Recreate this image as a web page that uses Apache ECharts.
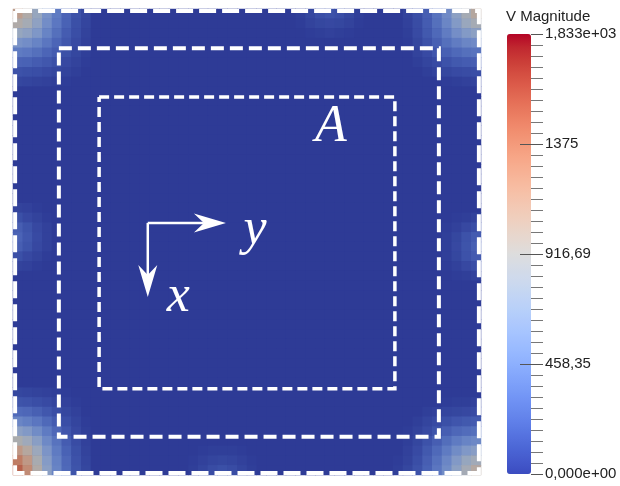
<!DOCTYPE html>
<html>
<head>
<meta charset="utf-8">
<script src="https://cdn.jsdelivr.net/npm/echarts@6.0.0/dist/echarts.min.js"></script>
<style>
  html, body { margin: 0; background: #fff; }
  #chart { width: 620px; height: 486px; }
</style>
</head>
<body>
<div id="chart"></div>
<script>
// V Magnitude field on a square plate
const vMax = 1833.38
const tickLabels = ['0,000e+00', '458,35', '916,69', '1375', '1,833e+03']
const gridSize = 48

// corner hot spots, [row from the corner][col from the corner]
const cornerTL = [
  [1100, 940, 740, 530, 360, 220, 120, 60],
  [940, 850, 680, 490, 340, 210, 110, 50],
  [740, 680, 570, 420, 290, 180, 100, 40],
  [530, 490, 420, 330, 230, 150, 80, 30],
  [360, 340, 290, 230, 170, 110, 60, 20],
  [220, 210, 180, 150, 110, 70, 40, 10],
  [120, 110, 100, 80, 60, 40, 20, 0],
  [60, 50, 40, 30, 20, 10, 0, 0]
]
const cornerTR = [
  [1000, 850, 660, 470, 310, 190, 100, 40],
  [850, 760, 600, 440, 290, 180, 90, 30],
  [660, 600, 500, 370, 250, 160, 80, 20],
  [470, 440, 370, 290, 200, 120, 60, 10],
  [310, 290, 250, 200, 140, 80, 40, 0],
  [190, 180, 160, 120, 80, 50, 20, 0],
  [100, 90, 80, 60, 40, 20, 0, 0],
  [40, 30, 20, 10, 0, 0, 0, 0]
]
const cornerBL = [
  [1500, 1250, 950, 650, 420, 250, 130, 60],
  [1350, 1150, 880, 610, 400, 240, 120, 50],
  [1150, 1000, 780, 550, 360, 210, 110, 40],
  [900, 800, 640, 460, 310, 180, 90, 30],
  [650, 590, 480, 360, 240, 140, 70, 20],
  [430, 390, 330, 250, 170, 100, 50, 10],
  [260, 240, 200, 150, 100, 60, 30, 0],
  [130, 120, 100, 80, 50, 30, 10, 0],
  [60, 50, 40, 30, 20, 10, 0, 0]
]
const cornerBR = [
  [980, 840, 660, 480, 330, 210, 120, 60, 20],
  [820, 740, 590, 440, 300, 190, 100, 40, 10],
  [630, 580, 480, 360, 250, 160, 80, 30, 0],
  [450, 420, 360, 280, 190, 120, 60, 20, 0],
  [290, 270, 240, 190, 130, 80, 40, 10, 0],
  [170, 160, 140, 110, 80, 50, 20, 0, 0],
  [80, 70, 60, 50, 30, 20, 0, 0, 0],
  [30, 20, 20, 10, 0, 0, 0, 0, 0]
]
// mid-edge spots, [along the edge][into the plate]
const edgeLeft = [
  [40, 30, 10, 0],
  [110, 70, 40, 10],
  [190, 130, 70, 30],
  [220, 150, 80, 30],
  [190, 130, 70, 30],
  [110, 70, 40, 10],
  [40, 30, 10, 0]
]
const edgeRight = [
  [40, 20, 10, 0],
  [100, 70, 30, 10],
  [170, 120, 60, 20],
  [200, 130, 70, 20],
  [170, 120, 60, 20],
  [100, 70, 30, 10],
  [40, 20, 10, 0]
]
const edgeTop = [
  [20, 10, 0],
  [60, 40, 10],
  [100, 60, 20],
  [120, 70, 30],
  [100, 60, 20],
  [60, 40, 10],
  [20, 10, 0]
]
const edgeBottom = [
  [20, 10, 0],
  [50, 30, 10],
  [90, 50, 20],
  [110, 60, 20],
  [90, 50, 20],
  [50, 30, 10],
  [20, 10, 0]
]

// dashed boxes, [x1, y1, x2, y2] in % of the plate
const outerBox = [0.45, 0.45, 99.55, 99.55]
const middleBox = [9.8, 8.4, 91.0, 91.8]
const innerBox = [18.4, 18.9, 81.6, 81.5]
// axis arrows (origin, tip) and labels, % of the plate
const arrows = [
  [28.8, 45.9, 45.5, 45.9],
  [28.8, 45.9, 28.8, 61.8]
]
const labels = [[67.9, 25.3, 'A'], [51.7, 47.6, 'y'], [35.3, 61.8, 'x']]

// paraview cool to warm
const coolWarm = [
  [59, 76, 192], [68, 90, 204], [77, 104, 215], [87, 117, 225], [98, 130, 234],
  [108, 142, 241], [119, 154, 247], [130, 165, 251], [141, 176, 254], [152, 185, 255],
  [163, 194, 255], [174, 201, 253], [184, 208, 249], [194, 213, 244], [204, 217, 238],
  [213, 219, 230], [221, 221, 221], [229, 216, 209], [236, 211, 197], [241, 204, 185],
  [245, 196, 173], [247, 187, 160], [247, 177, 148], [247, 166, 135], [244, 154, 123],
  [241, 141, 111], [236, 127, 99], [229, 112, 88], [222, 96, 77], [213, 80, 66],
  [203, 62, 56], [192, 40, 47], [180, 4, 38]
]
const rgb = (c, k) => 'rgb(' + c.map(v => Math.round(v * k)).join(',') + ')'
const barColors = coolWarm.map(c => rgb(c, 1))
const fieldColors = coolWarm.map(c => rgb(c, 0.78))

let field = []
for (let r = 0; r < gridSize; r++) {
  field.push(new Array(gridSize).fill(0))
}
function stamp(patch, r0, c0, dr, dc, swap) {
  patch.forEach((row, i) => {
    row.forEach((v, j) => {
      let r = r0 + (swap ? j : i) * dr
      let c = c0 + (swap ? i : j) * dc
      if (r >= 0 && r < gridSize && c >= 0 && c < gridSize) {
        field[r][c] = Math.max(field[r][c], v)
      }
    })
  })
}
const last = gridSize - 1
stamp(cornerTL, 0, 0, 1, 1)
stamp(cornerTR, 0, last, 1, -1)
stamp(cornerBL, last, 0, -1, 1)
stamp(cornerBR, last, last, -1, -1)
stamp(edgeLeft, 20, 0, 1, 1)
stamp(edgeRight, 21, last, 1, -1)
stamp(edgeTop, 0, 29, 1, 1, true)
stamp(edgeBottom, last, 18, -1, 1, true)

let heatData = []
for (let r = 0; r < gridSize; r++) {
  for (let c = 0; c < gridSize; c++) {
    heatData.push([c, r, field[r][c]])
  }
}
const cells = Array.from({ length: gridSize }, (_, i) => i)

function boxPath(b) {
  return [[b[0], b[1]], [b[2], b[1]], [b[2], b[3]], [b[0], b[3]], [b[0], b[1]]]
}

// stem plus a slim barbed head
function renderArrow(params, api) {
  let p0 = api.coord([api.value(0), api.value(1)])
  let p1 = api.coord([api.value(2), api.value(3)])
  let dx = p1[0] - p0[0], dy = p1[1] - p0[1]
  let len = Math.sqrt(dx * dx + dy * dy)
  let ux = dx / len, uy = dy / len
  let headLen = 32, headW = 9.5, notch = 22
  let at = (a, b) => [p1[0] - ux * a - uy * b, p1[1] - uy * a + ux * b]
  return {
    type: 'group',
    children: [
      {
        type: 'line',
        shape: { x1: p0[0], y1: p0[1], x2: at(notch, 0)[0], y2: at(notch, 0)[1] },
        style: { stroke: '#fff', lineWidth: 2.5 }
      },
      {
        type: 'polygon',
        shape: { points: [p1, at(headLen, headW), at(notch, 0), at(headLen, -headW)] },
        style: { fill: '#fff' }
      }
    ]
  }
}

const plate = { left: 13, top: 9, width: 468, height: 466 }
const barRect = { left: 507, top: 34, width: 24, height: 440 }
const hidden = { show: false }
const pctAxis = { type: 'value', min: 0, max: 100, show: false }
const clearLine = { show: true, onZero: false, lineStyle: { color: 'rgba(0,0,0,0)' } }

let chart = echarts.init(document.getElementById('chart'))
chart.setOption({
  animation: false,
  title: {
    text: 'V Magnitude',
    left: 506,
    top: 9,
    padding: 0,
    textStyle: { fontSize: 15, fontWeight: 'normal', color: '#222', fontFamily: 'Liberation Sans' }
  },
  grid: [
    Object.assign({ show: true, backgroundColor: fieldColors[0], borderWidth: 0 }, plate),
    Object.assign({}, plate),
    Object.assign({}, barRect),
    Object.assign({}, barRect)
  ],
  xAxis: [
    { type: 'category', data: cells, gridIndex: 0, show: false },
    Object.assign({ gridIndex: 1 }, pctAxis),
    Object.assign({ gridIndex: 2 }, pctAxis),
    Object.assign({ gridIndex: 3 }, pctAxis)
  ],
  yAxis: [
    { type: 'category', data: cells, gridIndex: 0, inverse: true, show: false },
    Object.assign({ gridIndex: 1, inverse: true }, pctAxis),
    {
      type: 'value',
      gridIndex: 2,
      position: 'right',
      min: 0,
      max: vMax,
      interval: vMax / 4,
      axisLine: clearLine,
      splitLine: hidden,
      axisTick: { show: true, length: 12, lineStyle: { color: '#555' } },
      minorTick: { show: true, splitNumber: 10, length: 12, lineStyle: { color: '#777' } },
      axisLabel: {
        margin: 14,
        fontSize: 15,
        color: '#222',
        fontFamily: 'Liberation Sans',
        formatter: v => tickLabels[Math.round(v / (vMax / 4))]
      }
    },
    {
      type: 'value',
      gridIndex: 3,
      position: 'right',
      z: 10,
      min: 0,
      max: vMax,
      interval: vMax / 4,
      axisLine: clearLine,
      splitLine: hidden,
      axisLabel: hidden,
      axisTick: {
        show: true,
        inside: true,
        length: 11,
        customValues: [vMax / 4, vMax / 2, vMax * 3 / 4],
        lineStyle: { color: '#555' }
      }
    }
  ],
  visualMap: [
    {
      type: 'continuous',
      seriesIndex: [],
      min: 0,
      max: vMax,
      left: 507,
      top: 34,
      padding: 0,
      itemWidth: 24,
      itemHeight: 440,
      calculable: false,
      hoverLink: false,
      text: null,
      inRange: { color: barColors }
    },
    {
      type: 'continuous',
      seriesIndex: 0,
      show: false,
      min: 0,
      max: vMax,
      inRange: { color: fieldColors }
    }
  ],
  series: [
    {
      type: 'heatmap',
      xAxisIndex: 0,
      yAxisIndex: 0,
      data: heatData,
      silent: true,
      itemStyle: { borderWidth: 0 },
      emphasis: { disabled: true }
    },
    {
      type: 'lines',
      coordinateSystem: 'cartesian2d',
      xAxisIndex: 1,
      yAxisIndex: 1,
      polyline: true,
      silent: true,
      lineStyle: { color: '#fff', opacity: 1, width: 4, cap: 'butt' },
      data: [
        { coords: boxPath(outerBox), lineStyle: { type: [17, 6], width: 4 } },
        { coords: boxPath(middleBox), lineStyle: { type: [13, 6], width: 4 } },
        { coords: boxPath(innerBox), lineStyle: { type: [10, 5], width: 3.5 } }
      ]
    },
    {
      type: 'custom',
      xAxisIndex: 1,
      yAxisIndex: 1,
      silent: true,
      data: arrows,
      renderItem: renderArrow
    },
    {
      type: 'scatter',
      xAxisIndex: 1,
      yAxisIndex: 1,
      symbolSize: 0,
      silent: true,
      data: labels,
      itemStyle: { opacity: 1 },
      label: {
        show: true,
        position: 'inside',
        formatter: p => p.value[2],
        color: '#fff',
        fontSize: 52,
        fontStyle: 'italic',
        fontFamily: 'Liberation Serif'
      }
    }
  ]
})
</script>
</body>
</html>
